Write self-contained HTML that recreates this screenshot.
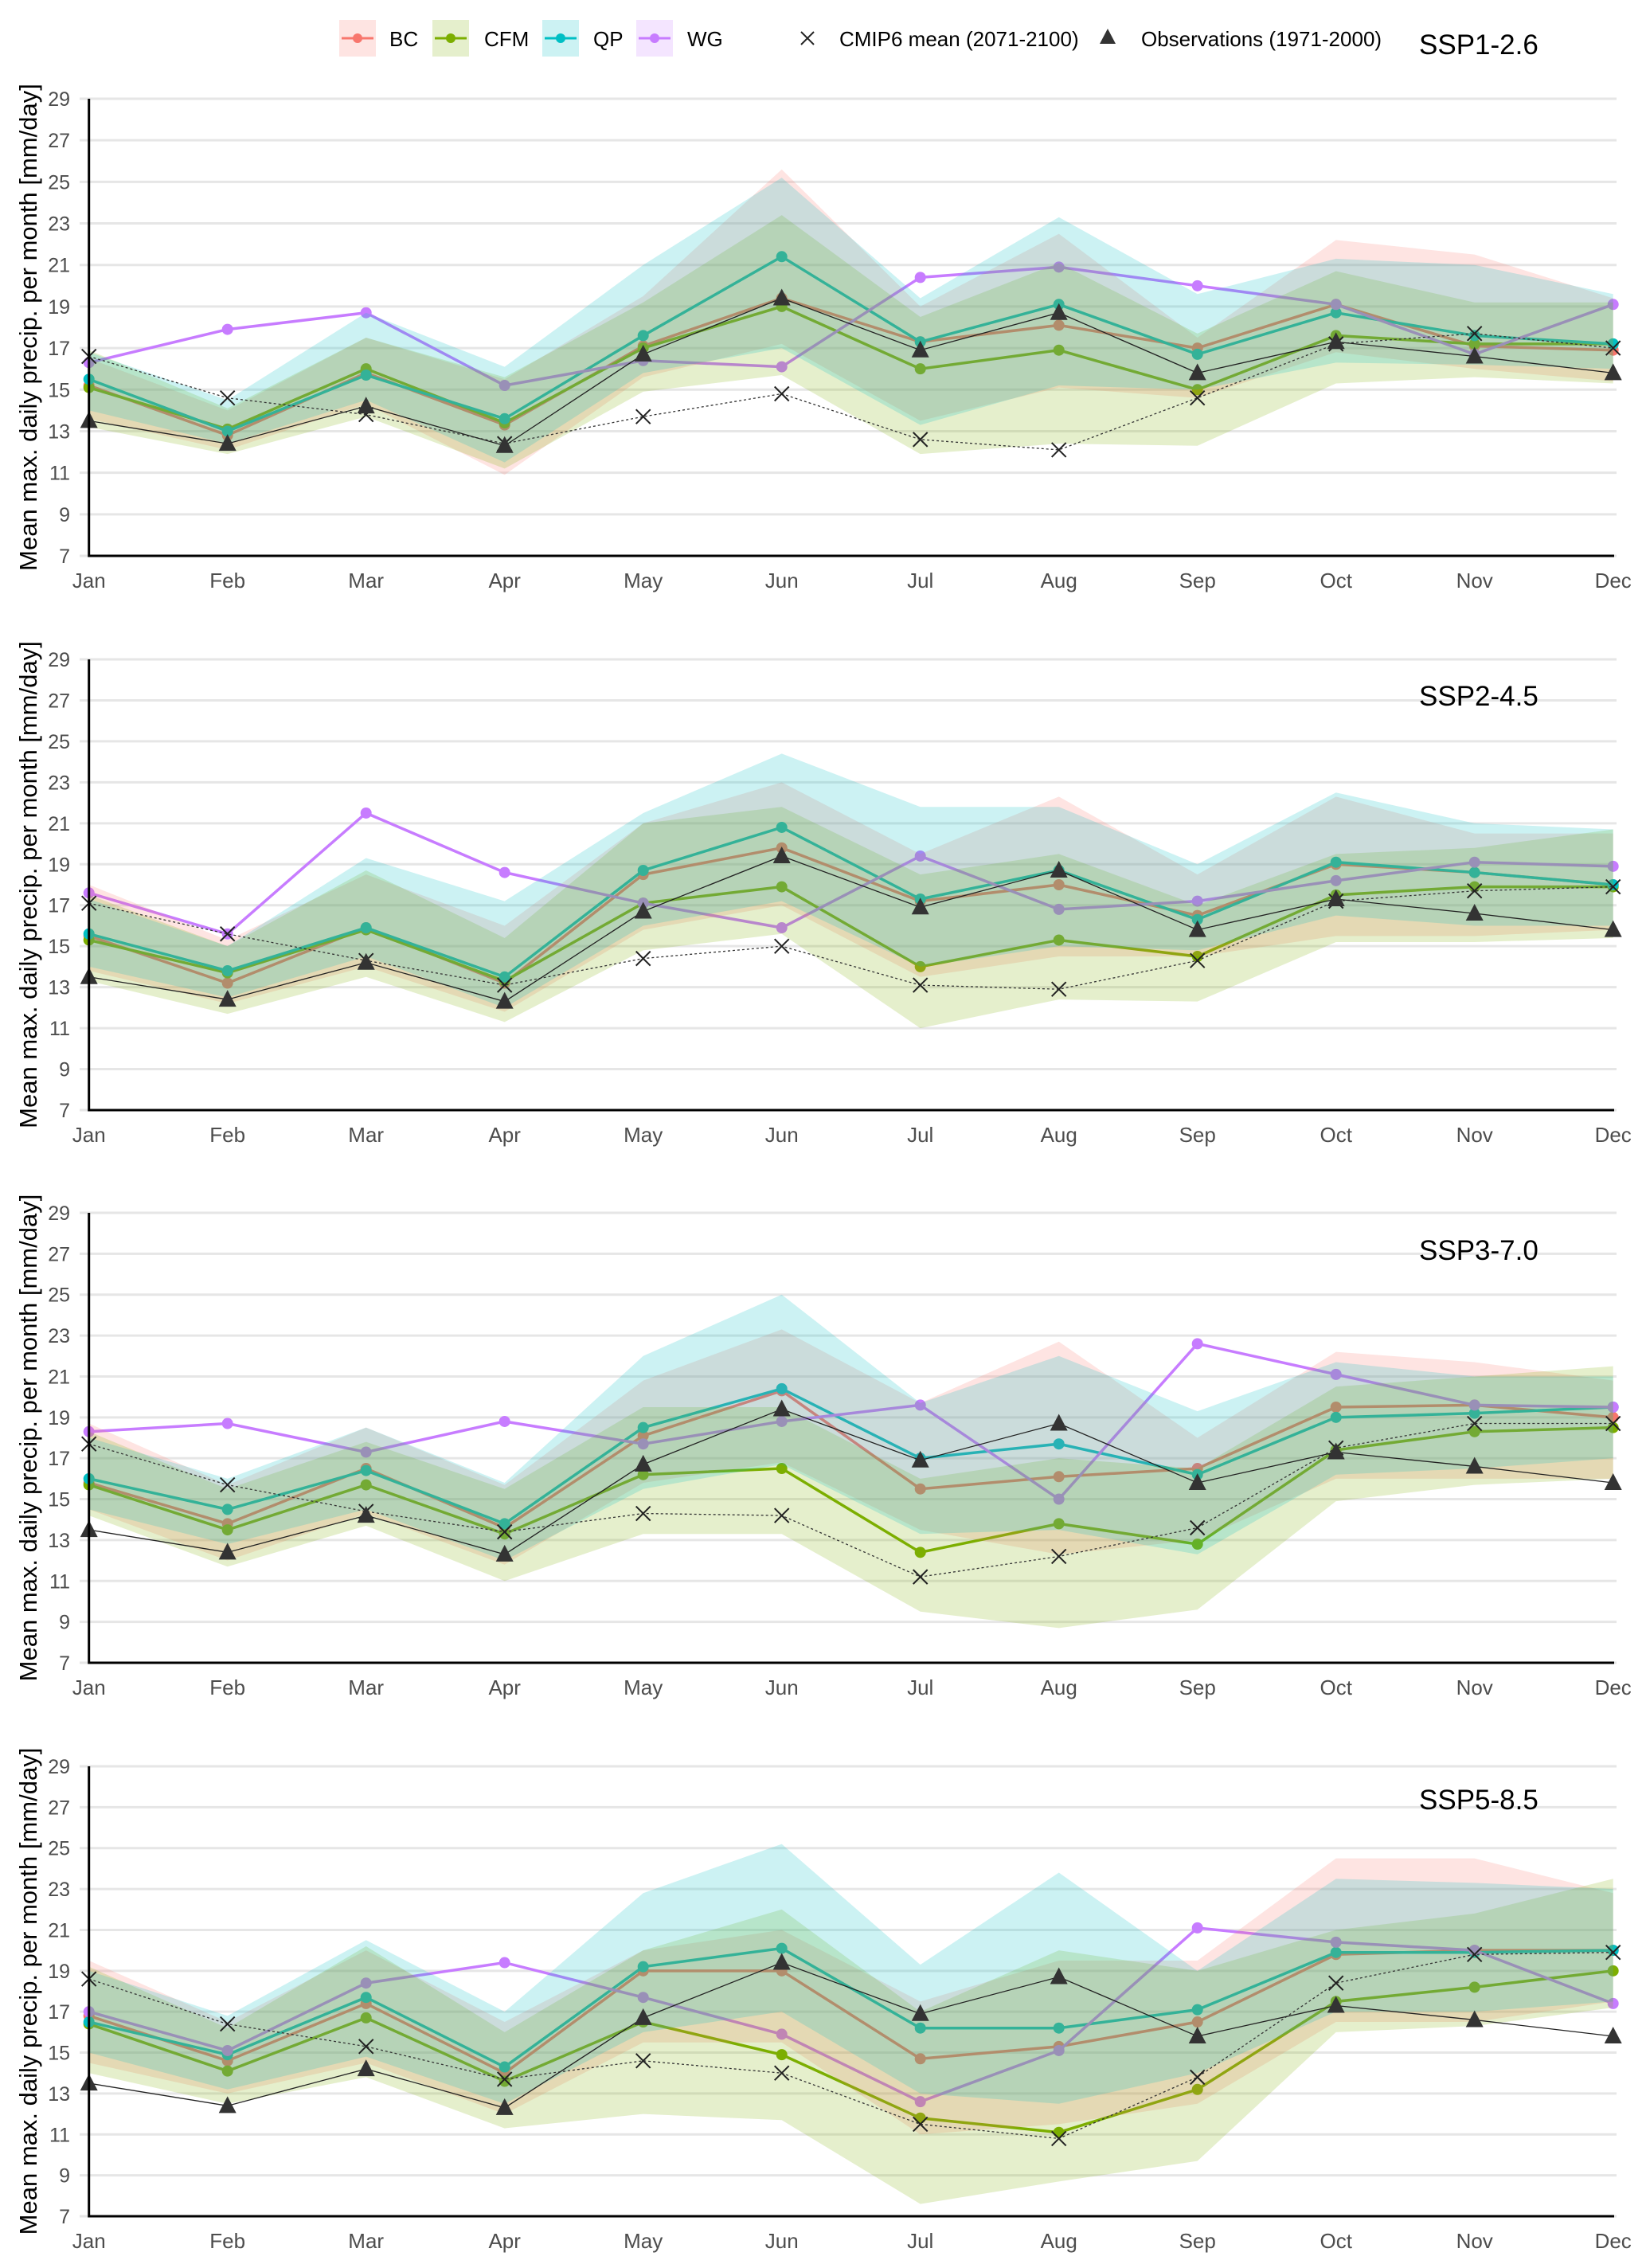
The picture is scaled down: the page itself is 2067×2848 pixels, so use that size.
<!DOCTYPE html>
<html><head><meta charset="utf-8">
<style>
html,body{margin:0;padding:0;background:#fff;}
svg{display:block;font-family:"Liberation Sans",Arial,sans-serif;}
</style></head>
<body>
<svg id="s" xmlns="http://www.w3.org/2000/svg" width="2067" height="2848" viewBox="0 0 2067 2848">
<rect width="2067" height="2848" fill="#fff"/>
</svg>
<script>
const NS="http://www.w3.org/2000/svg";
const svg=document.getElementById('s');
function el(t,a,txt){const e=document.createElementNS(NS,t);for(const k in a)e.setAttribute(k,a[k]);if(txt!==undefined)e.textContent=txt;svg.appendChild(e);return e;}
const COL={BC:'#F8766D',CFM:'#7CAE00',QP:'#00BFC4',WG:'#C77CFF'};
const months=['Jan','Feb','Mar','Apr','May','Jun','Jul','Aug','Sep','Oct','Nov','Dec'];
const X0=111.7,DX=174.0;
const obs=[13.5,12.4,14.2,12.3,16.7,19.4,16.9,18.7,15.8,17.3,16.6,15.8];
const panels=[
{top:124,bot:698,title:'SSP1-2.6',ty:68,
 BC:[15.2,12.8,15.8,13.3,17.1,19.4,17.3,18.1,17.0,19.1,17.1,16.9],
 CFM:[15.1,13.1,16.0,13.4,17.0,19.0,16.0,16.9,15.0,17.6,17.2,17.2],
 QP:[15.5,13.0,15.7,13.6,17.6,21.4,17.3,19.1,16.7,18.7,17.6,17.2],
 WG:[16.3,17.9,18.7,15.2,16.4,16.1,20.4,20.9,20.0,19.1,16.7,19.1],
 CM:[16.6,14.6,13.8,12.4,13.7,14.8,12.6,12.1,14.6,17.2,17.7,17.0],
 BClo:[13.6,12.1,14.3,10.9,15.6,17.2,13.5,15.1,14.6,16.8,16.0,15.4],
 BChi:[16.5,14.0,17.5,15.5,19.5,25.6,19.0,22.5,17.5,22.2,21.5,19.4],
 CFMlo:[13.2,11.9,13.7,11.2,14.9,15.7,11.9,12.4,12.3,15.3,15.6,15.3],
 CFMhi:[16.9,14.1,17.5,15.6,19.2,23.4,18.5,21.1,17.7,20.7,19.2,19.2],
 QPlo:[14.0,12.4,14.5,11.5,15.8,17.0,13.3,15.2,15.0,16.3,16.2,16.0],
 QPhi:[16.8,14.5,18.7,16.1,21.0,25.2,19.4,23.3,19.6,21.3,21.0,19.6]},
{top:828,bot:1394,title:'SSP2-4.5',ty:886,
 BC:[15.5,13.2,15.9,13.2,18.5,19.8,17.2,18.0,16.5,19.0,18.6,18.0],
 CFM:[15.3,13.7,15.8,13.3,17.1,17.9,14.0,15.3,14.5,17.5,17.9,17.9],
 QP:[15.6,13.8,15.9,13.5,18.7,20.8,17.3,18.7,16.3,19.1,18.6,18.0],
 WG:[17.6,15.6,21.5,18.6,17.1,15.9,19.4,16.8,17.2,18.2,19.1,18.9],
 CM:[17.1,15.6,14.3,13.1,14.4,15.0,13.1,12.9,14.3,17.2,17.7,17.9],
 BClo:[13.8,12.2,14.0,11.8,15.8,17.0,13.5,14.5,14.5,15.5,15.5,15.8],
 BChi:[18.0,15.3,18.5,16.0,21.0,23.0,19.5,22.3,18.5,22.3,20.5,20.5],
 CFMlo:[13.3,11.7,13.5,11.3,14.8,15.6,11.0,12.4,12.3,15.2,15.2,15.4],
 CFMhi:[17.5,15.0,18.7,15.4,21.0,21.8,18.5,19.5,17.0,19.5,19.8,20.7],
 QPlo:[14.0,12.5,14.5,12.0,16.0,17.2,14.0,15.0,14.8,16.5,16.0,16.0],
 QPhi:[17.3,15.0,19.3,17.2,21.5,24.4,21.8,21.8,19.0,22.5,21.0,20.7]},
{top:1523,bot:2088,title:'SSP3-7.0',ty:1582,
 BC:[15.8,13.8,16.5,13.6,18.1,20.3,15.5,16.1,16.5,19.5,19.6,19.0],
 CFM:[15.7,13.5,15.7,13.3,16.2,16.5,12.4,13.8,12.8,17.4,18.3,18.5],
 QP:[16.0,14.5,16.4,13.8,18.5,20.4,17.0,17.7,16.2,19.0,19.2,19.5],
 WG:[18.3,18.7,17.3,18.8,17.7,18.8,19.6,15.0,22.6,21.1,19.6,19.5],
 CM:[17.7,15.7,14.4,13.4,14.3,14.2,11.2,12.2,13.6,17.5,18.7,18.7],
 BClo:[14.5,12.0,14.3,11.8,15.8,16.8,13.5,12.3,13.0,16.0,16.0,16.0],
 BChi:[18.7,15.7,18.5,15.7,20.8,23.3,19.7,22.7,18.0,22.2,21.7,20.8],
 CFMlo:[14.2,11.7,13.7,11.0,13.3,13.3,9.5,8.7,9.6,14.9,15.7,16.0],
 CFMhi:[18.3,15.5,17.8,15.5,19.5,19.5,16.0,17.0,16.5,20.5,21.0,21.5],
 QPlo:[14.5,12.8,14.5,12.0,15.5,16.7,13.3,13.5,12.3,16.2,16.5,17.0],
 QPhi:[18.0,16.0,18.5,15.8,22.0,25.0,19.7,22.0,19.3,21.7,21.0,21.0]},
{top:2218,bot:2783,title:'SSP5-8.5',ty:2272,
 BC:[16.8,14.6,17.4,14.0,19.0,19.0,14.7,15.3,16.5,19.8,20.0,20.0],
 CFM:[16.4,14.1,16.7,13.6,16.5,14.9,11.8,11.1,13.2,17.5,18.2,19.0],
 QP:[16.5,14.9,17.7,14.3,19.2,20.1,16.2,16.2,17.1,19.9,19.9,20.0],
 WG:[17.0,15.1,18.4,19.4,17.7,15.9,12.6,15.1,21.1,20.4,20.0,17.4],
 CM:[18.6,16.4,15.3,13.7,14.6,14.0,11.5,10.8,13.8,18.4,19.8,19.9],
 BClo:[14.5,13.0,14.5,12.0,15.5,15.5,11.0,11.5,12.5,16.5,16.5,17.5],
 BChi:[19.5,16.5,20.0,16.5,20.0,21.0,17.5,19.5,19.5,24.5,24.5,22.8],
 CFMlo:[14.0,12.5,13.8,11.3,12.0,11.7,7.6,8.7,9.7,16.0,16.3,17.2],
 CFMhi:[19.2,16.2,20.2,16.0,20.0,22.0,17.0,20.0,19.0,21.0,21.8,23.5],
 QPlo:[15.0,13.2,14.8,12.5,16.0,17.0,13.0,12.5,14.0,17.0,17.0,17.5],
 QPhi:[19.0,16.8,20.5,17.0,22.8,25.2,19.3,23.8,19.0,23.5,23.3,23.0]}
];
panels.forEach(p=>{
  const Y=v=>p.bot-(v-7)/22*(p.bot-p.top);
  const X=i=>X0+i*DX;
  // grid
  for(let v=7;v<=29;v+=2){
    el('line',{x1:100,x2:2030,y1:Y(v),y2:Y(v),stroke:'#e6e6e6','stroke-width':3});
    el('text',{x:88,y:Y(v)+9,'text-anchor':'end','font-size':25,fill:'#4d4d4d'},String(v));
  }
  months.forEach((m,i)=>el('text',{x:X(i),y:p.bot+40,'text-anchor':'middle','font-size':26,fill:'#4d4d4d'},m));
  const cy=(p.top+p.bot)/2;
  el('text',{x:0,y:0,transform:`translate(46,${cy}) rotate(-90)`,'text-anchor':'middle','font-size':31,fill:'#000'},'Mean max. daily precip. per month [mm/day]');
  // lines + points
  ['BC','CFM','QP','WG'].forEach(k=>{
    el('polyline',{points:p[k].map((v,i)=>X(i)+','+Y(v)).join(' '),fill:'none',stroke:COL[k],'stroke-width':3.5});
    p[k].forEach((v,i)=>el('circle',{cx:X(i),cy:Y(v),r:7,fill:COL[k]}));
  });
  // ribbons
  ['BC','CFM','QP'].forEach(k=>{
    const lo=p[k+'lo'],hi=p[k+'hi'];
    const pts=hi.map((v,i)=>X(i)+','+Y(v)).concat(lo.map((v,i)=>X(i)+','+Y(v)).reverse());
    el('polygon',{points:pts.join(' '),fill:COL[k],'fill-opacity':0.2});
  });
  // CMIP
  el('polyline',{points:p.CM.map((v,i)=>X(i)+','+Y(v)).join(' '),fill:'none',stroke:'#333','stroke-width':1.3,'stroke-dasharray':'3,3'});
  p.CM.forEach((v,i)=>{const x=X(i),y=Y(v),d=9;el('path',{d:`M${x-d},${y-d}L${x+d},${y+d}M${x-d},${y+d}L${x+d},${y-d}`,stroke:'#222','stroke-width':2,fill:'none'});});
  // Obs
  el('polyline',{points:obs.map((v,i)=>X(i)+','+Y(v)).join(' '),fill:'none',stroke:'#222','stroke-width':1.3});
  obs.forEach((v,i)=>{const x=X(i),y=Y(v);el('polygon',{points:`${x-11},${y+9} ${x+11},${y+9} ${x},${y-12}`,fill:'#333'});});
  // axes
  el('line',{x1:X0,x2:X0,y1:p.top,y2:p.bot+1.5,stroke:'#000','stroke-width':3});
  el('line',{x1:X0,x2:2027,y1:p.bot,y2:p.bot,stroke:'#000','stroke-width':3});
  el('text',{x:1782,y:p.ty,'font-size':35,fill:'#000'},p.title);
});
// legend
[['BC',426,489],['CFM',543,608],['QP',681,745],['WG',799,863]].forEach(([k,kx,tx])=>{
  el('rect',{x:kx,y:25,width:46,height:46,fill:COL[k],'fill-opacity':0.2});
  el('line',{x1:kx+3,x2:kx+43,y1:48,y2:48,stroke:COL[k],'stroke-width':3});
  el('circle',{cx:kx+23,cy:48,r:6,fill:COL[k]});
  el('text',{x:tx,y:58,'font-size':26,fill:'#000'},k);
});
{const x=1014,y=48,d=8;el('path',{d:`M${x-d},${y-d}L${x+d},${y+d}M${x-d},${y+d}L${x+d},${y-d}`,stroke:'#222','stroke-width':2,fill:'none'});}
el('text',{x:1054,y:58,'font-size':26,fill:'#000'},'CMIP6 mean (2071-2100)');
el('polygon',{points:'1381,55 1401,55 1391,36',fill:'#333'});
el('text',{x:1433,y:58,'font-size':26,fill:'#000'},'Observations (1971-2000)');
</script>
</body></html>
